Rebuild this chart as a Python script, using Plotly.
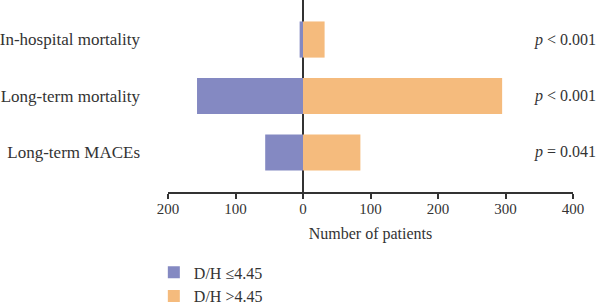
import plotly.graph_objects as go

categories = ["In-hospital mortality", "Long-term mortality", "Long-term MACEs"]
low_group = [5, 157, 56]      # D/H <=4.45 (drawn to the left)
high_group = [32, 295, 85]    # D/H >4.45
p_labels = ["<i>p</i> < 0.001", "<i>p</i> < 0.001", "<i>p</i> = 0.041"]
tick_vals = [-200, -100, 0, 100, 200, 300, 400]
tick_text = ["200", "100", "0", "100", "200", "300", "400"]

FONT = "Liberation Serif"
TXT = "#333333"

fig = go.Figure()
fig.add_trace(go.Bar(
    y=categories, x=[-v for v in low_group], orientation="h",
    name="D/H ≤4.45", marker=dict(color="#8489C2", line=dict(width=0)),
    width=0.64,
))
fig.add_trace(go.Bar(
    y=categories, x=high_group, orientation="h",
    name="D/H >4.45", marker=dict(color="#F5BB7D", line=dict(width=0)),
    width=0.64,
))

for cat, lab in zip(categories, p_labels):
    fig.add_annotation(x=1.0625, xref="paper", y=cat, yref="y", text=lab,
                       showarrow=False, xanchor="right",
                       font=dict(family=FONT, size=16, color=TXT))

fig.update_layout(
    width=598, height=304,
    margin=dict(l=168, r=25, t=0, b=112),
    barmode="relative",
    plot_bgcolor="white", paper_bgcolor="white",
    font=dict(family=FONT, size=15, color=TXT),
    showlegend=True,
    legend=dict(x=-0.035, xref="paper", y=0.16, yref="container",
                xanchor="left", yanchor="top",
                font=dict(family=FONT, size=16, color=TXT),
                tracegroupgap=0, bgcolor="rgba(0,0,0,0)"),
    xaxis=dict(range=[-200, 400], tickvals=tick_vals, ticktext=tick_text,
               showgrid=False, zeroline=True, zerolinecolor="#333333",
               zerolinewidth=1.5, showline=True, linecolor="#333333",
               linewidth=1.5, ticks="outside", ticklen=5, tickwidth=1.5,
               tickcolor="#333333", tickfont=dict(size=15),
               ticklabelstandoff=-3,
               title=dict(text="Number of patients", standoff=12,
                          font=dict(family=FONT, size=16, color=TXT))),
    yaxis=dict(categoryorder="array", categoryarray=categories[::-1],
               range=[-0.7, 2.7], showgrid=False, showline=False,
               ticks="", ticklabelstandoff=27,
               tickfont=dict(size=17)),
)

fig.write_html("out.html")
